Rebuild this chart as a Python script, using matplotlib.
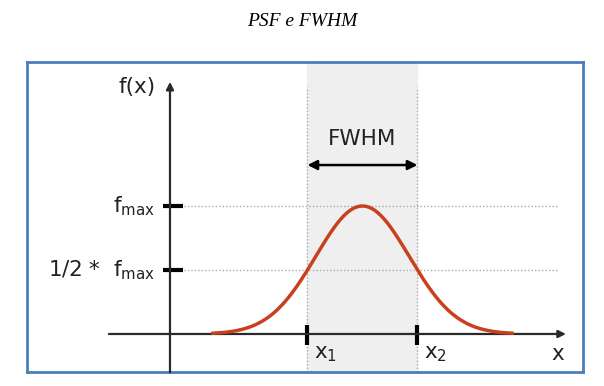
import numpy as np
import matplotlib.pyplot as plt

# curve parameters (PSF drawn as a gaussian)
center = 3.5
fwhm = 2.0
fmax = 1.0
x_start, x_end = 0.78, 6.22

x1 = center - fwhm / 2
x2 = center + fwhm / 2
y_levels = [fmax, fmax / 2]
y_labels = [r"$\mathregular{f_{max}}$", r"1/2 *  $\mathregular{f_{max}}$"]
x_labels = [r"$\mathregular{x_1}$", r"$\mathregular{x_2}$"]

sigma = fwhm / (2 * np.sqrt(2 * np.log(2)))
xs = np.linspace(x_start, x_end, 300)
ys = fmax * np.exp(-(xs - center) ** 2 / (2 * sigma ** 2))

fig = plt.figure(figsize=(6.04, 3.86), dpi=100)
fig.text(0.5, 1 - 22 / 386, "PSF e FWHM", ha='center', va='center',
         family='Liberation Serif', style='italic', fontsize=14)

ax = fig.add_axes([27 / 604, 1 - 372 / 386, 556 / 604, 310 / 386])
ax.set_xlim(-2.6, 7.51)
ax.set_ylim(-0.297, 2.125)
ax.set_xticks([])
ax.set_yticks([])
for s in ax.spines.values():
    s.set_color('#4a7ebb')
    s.set_linewidth(2)

axc = '#2a2a2a'
fs = 15.5

# shaded FWHM band + dotted guides
ax.axvspan(x1, x2, color='#efefef', zorder=0)
for xv in [x1, x2]:
    ax.plot([xv, xv], [-0.3, 1.93], ls=(0, (1, 1.5)), color='#aaaaaa', lw=1, zorder=1)
for yv in y_levels:
    ax.plot([0, 7.05], [yv, yv], ls=(0, (1, 1.5)), color='#aaaaaa', lw=1, zorder=1)

# axes with arrows
ax.annotate('', xy=(7.2, 0), xytext=(-1.11, 0),
            arrowprops=dict(arrowstyle='-|>', color=axc, lw=1.6,
                            mutation_scale=11, shrinkA=0, shrinkB=0))
ax.annotate('', xy=(0, 1.97), xytext=(0, -0.3),
            arrowprops=dict(arrowstyle='-|>', color=axc, lw=1.6,
                            mutation_scale=11, shrinkA=0, shrinkB=0))

# ticks
for yv in y_levels:
    ax.plot([-0.13, 0.24], [yv, yv], color='black', lw=3, solid_capstyle='butt')
for xv in [x1, x2]:
    ax.plot([xv, xv], [-0.086, 0.07], color='black', lw=3, solid_capstyle='butt')

# curve
ax.plot(xs, ys, color='#c8401e', lw=2.5, zorder=3)

# FWHM arrow
ax.annotate('', xy=(x2, 1.32), xytext=(x1, 1.32),
            arrowprops=dict(arrowstyle='<|-|>', color='black', lw=1.8,
                            mutation_scale=14, shrinkA=0, shrinkB=0))
ax.text(center, 1.52, "FWHM", ha='center', va='center', fontsize=fs, color='#222222')

# labels
ax.text(-0.6, 1.93, "f(x)", ha='center', va='center', fontsize=fs, color='#222222')
for yv, lab in zip(y_levels, y_labels):
    ax.text(-0.27, yv, lab, ha='right', va='center', fontsize=fs, color='#222222')
for xv, lab in zip([x1, x2], x_labels):
    ax.text(xv + 0.12, -0.16, lab, ha='left', va='center', fontsize=fs, color='#222222')
ax.text(7.05, -0.16, "x", ha='center', va='center', fontsize=fs, color='#222222')

fig.savefig('out.png', dpi=100)
